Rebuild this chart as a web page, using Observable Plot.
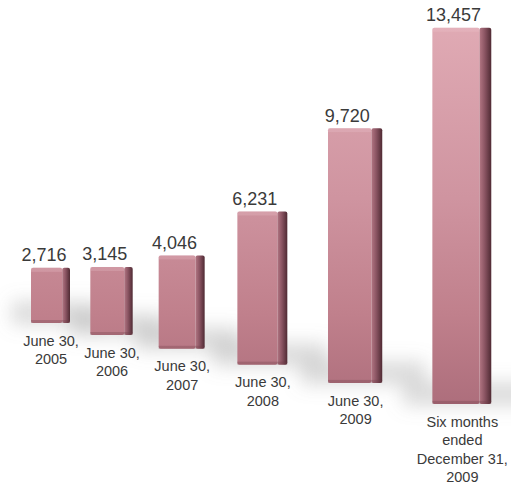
<!DOCTYPE html>
<html><head><meta charset="utf-8">
<script src="https://cdn.jsdelivr.net/npm/d3@7"></script>
<script src="https://cdn.jsdelivr.net/npm/@observablehq/plot@0.6"></script>
<style>
html,body{margin:0;padding:0;background:#fff;}
#chart{width:511px;height:487px;overflow:hidden;}
</style></head><body><div id="chart"></div>
<script>
// ---- data ----
const categories = ["June 30,\n2005", "June 30,\n2006", "June 30,\n2007", "June 30,\n2008", "June 30,\n2009", "Six months\nended\nDecember 31,\n2009"];
const values = [2716, 3145, 4046, 6231, 9720, 13457];
const valueLabels = ["2,716", "3,145", "4,046", "6,231", "9,720", "13,457"];

// ---- perspective layout (bars come toward the viewer from left to right) ----
const W = 511, H = 487;
const SPREAD = 1.15;        // spacing growth per step
const GROW = 1.066;         // height-scale growth per step
const WGROW = 1.086;        // width growth per step
const PX_PER_UNIT = 0.0203; // vertical pixels per unit at the first bar
const BASE_DROP_PX = 80;    // how far the floor line drops per unit of depth
const X_PER_DEPTH = 406.7;
const X0 = 50.5, Y0 = 323;
const BASE_W = 39;
const depth = i => Math.pow(SPREAD, i) - 1;
const px = p => p / PX_PER_UNIT;

const bars = categories.map((c, i) => {
  const u = depth(i);
  const base = -u * px(BASE_DROP_PX);
  const top = base + values[i] * Math.pow(GROW, i);
  const half = BASE_W * Math.pow(WGROW, i) / 2 / X_PER_DEPTH;
  const side = half * 0.4;
  return {category: c, value: values[i], label: valueLabels[i], u, base, top, half,
          x1: u - half, x2: u + half, xs: u + half - side, fc: u - side / 2};
});

const font = "'Liberation Sans', Helvetica, Arial, sans-serif";

const svg = Plot.plot({
  width: W, height: H,
  marginTop: 0, marginBottom: 0, marginLeft: 0, marginRight: 0,
  style: {background: "#fff", fontFamily: font},
  x: {type: "linear", domain: [-X0 / X_PER_DEPTH, (W - X0) / X_PER_DEPTH], range: [0, W], axis: null},
  y: {type: "linear", domain: [(Y0 - H) / PX_PER_UNIT, Y0 / PX_PER_UNIT], range: [H, 0], axis: null},
  marks: [
    // soft floor shadows
    Plot.rect(bars, {
      x1: d => d.u - d.half * 2.0, x2: d => d.u + d.half * 2.6,
      y1: d => d.base - px(2), y2: d => d.base + px(22),
      fill: "#8c8c8c", fillOpacity: 0.3
    }),
    // front face
    Plot.rect(bars, {x1: "x1", x2: "xs", y1: "base", y2: "top", fill: "url(#barFront)", rx: 2}),
    // side face
    Plot.rect(bars, {x1: "xs", x2: "x2", y1: "base", y2: "top", fill: "url(#barSide)", rx: 2}),
    // top bevel highlight
    Plot.rect(bars, {x1: "x1", x2: "xs", y1: d => d.top - px(4), y2: "top", fill: "#f0c8cf", fillOpacity: 0.25}),
    // bottom edge
    Plot.rect(bars, {x1: "x1", x2: "x2", y1: "base", y2: d => d.base + px(3), fill: "#6d3a44", fillOpacity: 0.3}),
    // value labels
    Plot.text(bars, {x: "fc", y: "top", text: "label", dy: -7, dx: -3, lineAnchor: "bottom",
      fontSize: 18, fill: "#3a3a3a", fontFamily: font}),
    // category labels
    Plot.text(bars, {x: "u", y: "base", text: "category", dy: 9, lineAnchor: "top",
      fontSize: 14.5, lineHeight: 1.28, fill: "#3a3a3a", fontFamily: font})
  ]
});

// gradients and blur filter
const root = d3.select(svg);
const defs = root.insert("defs", ":first-child");
const gf = defs.append("linearGradient").attr("id", "barFront")
  .attr("gradientUnits", "userSpaceOnUse").attr("x1", 0).attr("y1", 25).attr("x2", 0).attr("y2", 410);
[[0, "#e0aab4"], [0.45, "#cf94a0"], [0.75, "#c0808c"], [1, "#ac6d7b"]].forEach(([o, c]) =>
  gf.append("stop").attr("offset", o).attr("stop-color", c));
const gs = defs.append("linearGradient").attr("id", "barSide")
  .attr("x1", 0).attr("y1", 0).attr("x2", 1).attr("y2", 0);
[[0, "#b27683"], [0.45, "#8a5462"], [1, "#4f2a33"]].forEach(([o, c]) =>
  gs.append("stop").attr("offset", o).attr("stop-color", c));
defs.append("filter").attr("id", "softShadow")
  .attr("filterUnits", "userSpaceOnUse").attr("x", -50).attr("y", -50).attr("width", W + 100).attr("height", H + 100)
  .append("feGaussianBlur").attr("stdDeviation", 9);
root.selectAll("g").filter(function() { return this.getAttribute("fill") === "#8c8c8c"; })
  .attr("filter", "url(#softShadow)");

document.getElementById("chart").appendChild(svg);
</script>
</body></html>
